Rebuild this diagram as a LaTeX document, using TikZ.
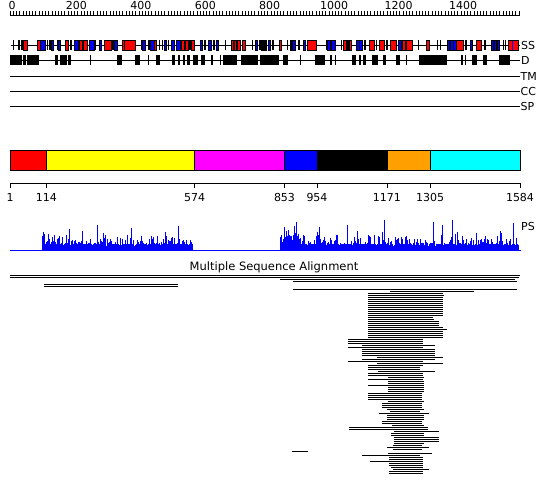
\documentclass[tikz,border=0pt]{standalone}
\usepackage{fontspec}
\setmainfont{DejaVu Sans}
\definecolor{dorange}{RGB}{255,160,0}
\definecolor{dred}{RGB}{255,0,0}
\definecolor{dyellow}{RGB}{255,255,0}
\definecolor{dmagenta}{RGB}{255,0,255}
\definecolor{dblue}{RGB}{0,0,255}
\definecolor{dcyan}{RGB}{0,255,255}
\begin{document}
\begin{tikzpicture}[x=1pt,y=-1pt,line cap=butt]
\useasboundingbox (0,0) rectangle (550,495);
\tikzset{
  lbl/.style={font=\fontsize{11}{13}\selectfont, inner sep=0pt},
  trackline/.style={line width=1pt, black},
  ssbox/.style={draw=black, line width=0.8pt},
  msa/.style={line width=1pt, black},
  dombox/.style={draw=black, line width=0.8pt}
}
% ---------- ruler ----------
\draw[trackline] (10,15.5) -- (520,15.5);
\foreach \i in {0,...,158} \draw[line width=0.7pt] ({10+3.2217*\i},15.5) -- ({10+3.2217*\i},11.5);
\foreach \v in {0,200,400,600,800,1000,1200,1400}
  \node[lbl,anchor=base] (r\v) at ({12+0.32217*\v},10) {\v};
% ---------- SS track ----------
\draw[trackline] (11,45.5) -- (520,45.5);
\foreach \a/\b/\c in {23.5/27/dred, 37.7/40.3/dred, 40.5/45.7/dblue, 51.5/53.5/dblue, 58.3/60.3/dblue,
  65.5/68.5/dred, 74/78.3/dblue, 79/87.3/dred, 89.3/94/dblue, 99.3/101.7/dblue, 104.3/111.7/dred,
  114.3/117.7/dblue, 122.3/135.7/dred, 142.7/145/dblue, 150.3/154/dblue, 154/156.7/dred, 164/166.7/dblue,
  171/174/dblue, 176.7/180.7/dblue, 181.7/188.3/dred, 191.7/194/dred, 200/202.3/dblue, 208.3/211/dblue,
  216/218.3/dblue, 231.7/240/dred, 242.7/245.3/dred, 255.3/257.3/dblue, 261.7/266.7/black, 268.3/270/dblue,
  279/281.7/dred, 290/295/dblue, 303.3/305.7/dblue, 307.3/316.7/dred, 327.3/335/dblue, 343.3/346.7/dred,
  347.5/351.7/dred, 356.7/362.3/dblue, 369.3/374/dred, 379.3/384/dred, 390.7/396.7/dred, 398.3/401/dblue,
  402.7/412.3/dred, 426/429/dred, 447.3/456.7/dblue, 456.7/463.3/dred, 470/472.3/dblue, 476.7/481/dred,
  491/499/dblue, 508.3/518.3/dred}
  \filldraw[ssbox, fill=\c] (\a,40.5) rectangle (\b,50.5);
\foreach \a in {13.3,19,22,47.3,50,57.3,71,83,95.7,113,124.5,141.7,149,159.3,162.3,168.5,185,190,
  205,214,225.3,234,237,252.3,260,273,287.3,292,299,326.7,331,341.7,349,359.5,365,376.7,387,406,
  418.3,437.3,440.5,450,453.5,466,485,494,497,503.3,505.5}
  \fill (\a-0.7,40.5) rectangle (\a+0.7,50.5);
\fill[dblue] (512,41) rectangle (513.4,50);
\node[lbl,anchor=west] (ss) at (521,45.5) {SS};
% ---------- D track ----------
\draw[trackline] (10,60.5) -- (520,60.5);
\foreach \a/\b in {10/17.5, 18.3/21.5, 23.3/25.7, 27.3/39.3, 55/57.7, 60/66.7, 68.3/70.7,
  116.7/122.3, 135/140, 156/160, 171.7/175.3, 177.8/180.3, 183.3/185, 186.7/189.5, 192.7/197.8,
  200.5/205, 222.5/236.7, 240.7/257.5, 260/278.5, 283.3/287.5, 314.5/325, 352.3/355.5, 358.5/360.5,
  363.3/365.7, 372/378.3, 382.5/386, 395.5/399.5, 419/447, 471.7/476.7, 483.3/486.7, 499.3/510}
  \fill (\a,55) rectangle (\b,65.5);
\foreach \a in {90.5,148.5,212,220.5,300.7,331,335.5,406.7,462,465.5}
  \fill (\a-0.7,55) rectangle (\a+0.7,65.5);
\node[lbl,anchor=west] (dl) at (521,60.5) {D};
% ---------- TM / CC / SP ----------
\draw[trackline] (10,76.5) -- (520,76.5);
\node[lbl,anchor=west] (tm) at (520.5,76.5) {TM};
\draw[trackline] (10,91.5) -- (520,91.5);
\node[lbl,anchor=west] (cc) at (520.5,91.5) {CC};
\draw[trackline] (10,106.5) -- (520,106.5);
\node[lbl,anchor=west] (sp) at (520.5,106.5) {SP};
% ---------- domain bar ----------
\foreach \a/\b/\c in {10/46.4/dred, 46.4/194.6/dyellow, 194.6/284.5/dmagenta, 284.5/317/dblue,
  317/386.9/black, 386.9/430.1/dorange, 430.1/520/dcyan}
  \filldraw[dombox, fill=\c] (\a,150.5) rectangle (\b,170.5);
\draw[trackline] (10,183.5) -- (520,183.5);
\foreach \p/\t in {10/1, 46.4/114, 194.6/574, 284.5/853, 317/954, 386.9/1171, 430.1/1305, 520/1584} {
  \draw[line width=0.8pt] (\p,183.5) -- (\p,188.5);
  \node[lbl,anchor=base] (d\t) at (\p,202) {\t};
}
% ---------- PS ----------
\pgfmathsetseed{12}
\draw[dblue, line width=1pt] (10,250.5) -- (521,250.5);
\begin{scope}[shift={(0,250.5)}]
  \draw[dblue, line width=0.55pt, ycomb] plot[samples=420, domain=42:192]
    (\x,{-(4+3*rnd+9*rnd^9+20*rnd^30)});
  \draw[dblue, line width=0.55pt, ycomb] plot[samples=60, domain=280:300]
    (\x,{-(6+5*rnd+8*rnd^4+20*rnd^10)});
  \draw[dblue, line width=0.55pt, ycomb] plot[samples=600, domain=300:518]
    (\x,{-(4+3*rnd+9*rnd^9+26*rnd^30)});
\end{scope}
\node[lbl,anchor=base west] (ps) at (521,230) {PS};
% ---------- MSA ----------
\node[font=\fontsize{11.5}{13}\selectfont, inner sep=0pt, anchor=base] (msat) at (274,270) {Multiple Sequence Alignment};
\foreach \y/\a/\b in {275.5/10/520, 277.5/10/519, 279.5/280/515, 281.5/293.3/517.3, 284.5/44/178, 286.5/44/178,
  289.5/293.3/516.7, 291.5/390/474,
  293.5/368.3/443.3, 295.5/368.3/444.3, 297.5/368.3/443.3, 299.5/368.3/443.3, 301.5/368.3/443.3,
  303.5/368.3/443.3, 305.5/368.3/443.3, 307.5/368.3/443.3, 309.5/368.3/443.3, 311.5/368.3/443.3,
  313.5/368.3/443.3, 315.5/368.3/443.3, 317.5/368.3/433.3, 319.5/368.3/434, 321.5/368.3/438.7,
  323.5/368.3/438.7, 325.5/368.3/438.7, 327.5/368.3/443.3, 329.5/368.3/446.7, 331.5/368.3/443.3,
  333.5/368.3/443.3, 335.5/368.3/443.3, 337.5/368.3/443.3,
  339.5/348.3/422.7, 341.5/348.3/422.7, 343.5/348.3/422.7, 345.5/362.3/435.3, 347.5/348.3/423.3,
  349.5/362.3/435.3, 351.5/362.3/435.3, 353.5/362.3/435.3, 355.5/362.3/435.3, 357.5/376.7/443.3,
  359.5/362.3/435.3, 361.5/348.3/423.3, 363.5/376.7/443.3, 365.5/368.3/423.3, 367.5/368.3/420, 369.5/368.3/420,
  371.5/378.3/435.3, 373.5/368.3/422.7, 375.5/368.3/422.7, 377.5/388.3/424.3, 379.5/368.3/422.7,
  381.5/388.3/424.3, 383.5/388.3/424.3, 385.5/368.3/424.3, 387.5/388.3/424.3, 389.5/388.3/424.3, 391.5/388.3/424.3,
  393.5/368.3/421.7, 395.5/368.3/421.7, 397.5/368.3/421.7, 399.5/368.3/421.7, 401.5/388.3/424.3,
  403.5/382.3/421.7, 405.5/382.3/421.7, 407.5/382.3/421.7, 409.5/387.3/424.3, 411.5/390/420, 413.5/379.3/429.3,
  415.5/387.3/424.3, 417.5/387.3/424.3, 419.5/387.3/424.3, 421.5/382.3/421.7, 423.5/382.3/421.7,
  425.5/392.3/424.3, 427.5/349.3/428.3, 429.5/349.3/428.3, 431.5/394.3/439.3, 433.5/391/424.3, 435.5/391/424.3,
  437.5/394.3/439.3, 439.5/394.3/439.3, 441.5/394.3/439.3, 443.5/394.3/424.3, 445.5/392.7/421.7,
  447.5/387.3/429.3, 449.5/392.7/421.7, 451.5/291.7/308.3, 453.5/388.3/431.7, 455.5/362.3/420,
  457.5/389.3/422.7, 459.5/389.3/422.7, 461.5/370/422.7, 463.5/389.3/422.7, 465.5/389.3/422.7,
  467.5/391/422.7, 469.5/392.7/429.3, 471.5/389.3/422.7, 473.5/389.3/422.7}
  \draw[msa] (\a,\y) -- (\b,\y);
\end{tikzpicture}
\end{document}
